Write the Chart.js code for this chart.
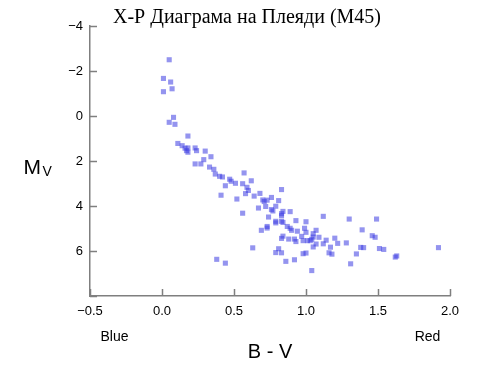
<!DOCTYPE html>
<html><head><meta charset="utf-8">
<script src="https://cdn.jsdelivr.net/npm/chart.js@4"></script>
<style>html,body{margin:0;padding:0;background:#fff}#wrap{width:500px;height:375px}</style>
</head><body><div id="wrap"><canvas id="c" width="500" height="375"></canvas></div>
<script>
// B-V colour index of each star
const bvValues = [0.05,0.01,0.06,0.07,0.01,0.08,0.05,0.09,0.18,0.11,0.14,0.16,0.18,0.17,0.18,0.23,0.24,0.30,0.34,0.29,
0.23,0.27,0.33,0.36,0.37,0.40,0.42,0.47,0.48,0.51,0.44,0.57,0.56,0.62,0.59,0.60,0.58,0.64,0.52,0.41,
0.68,0.70,0.71,0.73,0.76,0.83,0.81,0.67,0.72,0.76,0.77,0.79,0.84,0.89,0.56,0.74,0.79,0.79,0.83,0.83,
0.83,0.84,0.93,1.00,1.12,1.30,1.49,0.73,0.69,0.73,0.87,0.89,0.90,0.94,0.99,1.00,1.07,1.05,1.39,0.84,
0.83,0.88,0.92,0.93,0.97,0.98,1.01,1.03,1.05,1.04,1.09,1.07,1.05,1.12,1.14,1.20,1.22,1.28,1.17,1.16,
1.18,1.38,1.40,1.35,1.46,1.48,1.51,1.54,1.62,1.63,1.92,0.63,0.81,0.79,0.83,0.98,1.00,0.86,0.92,1.04,
1.31,0.38,0.44];
// absolute visual magnitude of each star
const mvValues = [-2.50,-1.67,-1.51,-1.21,-1.08,0.06,0.28,0.37,0.89,1.22,1.32,1.43,1.42,1.54,1.61,1.42,1.54,1.56,1.81,1.94,
2.13,2.13,2.27,2.37,2.58,2.68,2.71,2.81,2.90,2.99,3.10,2.53,3.01,2.88,3.17,3.31,3.45,3.56,3.69,3.52,
3.44,3.73,3.80,3.74,3.62,3.27,3.76,4.09,4.02,4.16,4.22,4.01,4.24,4.25,4.32,4.49,4.68,4.75,4.34,4.43,
4.68,4.73,4.65,4.70,4.46,4.58,4.58,4.91,5.08,4.98,4.91,4.99,5.08,5.12,4.99,5.17,5.08,5.23,5.06,5.34,
5.44,5.47,5.47,5.58,5.35,5.54,5.54,5.54,5.38,5.48,5.39,5.69,5.82,5.68,5.52,5.43,5.66,5.64,5.83,6.08,
6.14,5.84,5.85,6.13,5.32,5.39,5.89,5.93,6.27,6.22,5.85,5.86,5.90,6.07,6.08,6.12,6.09,6.46,6.39,6.87,
6.57,6.37,6.54];
const xTickValues = [-0.5, 0, 0.5, 1, 1.5, 2];
const xTickLabels = ['\u22120.5','0.0','0.5','1.0','1.5','2.0'];
const yTickValues = [-4, -2, 0, 2, 4, 6, 8];
const yTickLabels = ['\u22124','\u22122','0','2','4','6',''];
const titleText = 'X-P Диаграма на Плеяди (M45)';

const points = bvValues.map((x, i) => ({x: x, y: mvValues[i]}));
const AXIS = '#7f7f7f';
const SANS = '"Liberation Sans", Arial, sans-serif';

const decor = {
  id: 'decor',
  afterDraw(chart) {
    const ctx = chart.ctx;
    const xs = chart.scales.x, ys = chart.scales.y;
    const area = chart.chartArea;
    ctx.save();
    ctx.strokeStyle = AXIS;
    ctx.lineWidth = 1.5;
    ctx.beginPath();
    xTickValues.forEach(v => {
      const px = Math.round(xs.getPixelForValue(v)) + 0.5;
      ctx.moveTo(px, area.bottom);
      ctx.lineTo(px, area.bottom - 7);
    });
    yTickValues.forEach(v => {
      const py = Math.round(ys.getPixelForValue(v)) + 0.5;
      ctx.moveTo(area.left, py);
      ctx.lineTo(area.left + 7, py);
    });
    ctx.stroke();
    ctx.fillStyle = '#000';
    ctx.textBaseline = 'alphabetic';
    ctx.textAlign = 'center';
    ctx.font = '20px "Liberation Serif", "Times New Roman", serif';
    ctx.fillText(titleText, 247, 23);
    ctx.font = '20px ' + SANS;
    ctx.fillText('B - V', 270, 358);
    ctx.font = '14px ' + SANS;
    ctx.fillText('Blue', 114.5, 341);
    ctx.fillText('Red', 427.5, 341);
    ctx.textAlign = 'left';
    ctx.font = '21px ' + SANS;
    ctx.fillText('M', 23.5, 173.5);
    ctx.font = '14px ' + SANS;
    ctx.fillText('V', 42.5, 176);
    ctx.restore();
  }
};

new Chart(document.getElementById('c'), {
  type: 'scatter',
  data: { datasets: [{
    data: points,
    pointStyle: 'rect',
    pointRadius: 3.6,
    pointBorderWidth: 0,
    backgroundColor: 'rgba(60,60,225,0.55)',
    borderColor: 'rgba(60,60,225,0)'
  }]},
  options: {
    responsive: false,
    animation: false,
    layout: { padding: { left: 0, right: 50, top: 26, bottom: 0 } },
    plugins: { legend: { display: false }, title: { display: false }, tooltip: { enabled: false } },
    scales: {
      x: {
        type: 'linear', min: -0.5, max: 2,
        afterFit: s => { s.height = 79; },
        afterBuildTicks: s => { s.ticks = xTickValues.map(v => ({value: v})); },
        grid: { display: false, drawTicks: false },
        border: { color: AXIS, width: 1.5 },
        ticks: { padding: 8, color: '#000', font: { family: SANS, size: 13 },
          maxRotation: 0, autoSkip: false,
          callback: v => { const i = xTickValues.indexOf(v); return i >= 0 ? xTickLabels[i] : ''; } }
      },
      y: {
        type: 'linear', min: -4, max: 8, reverse: true,
        afterFit: s => { s.width = 90; },
        afterBuildTicks: s => { s.ticks = yTickValues.map(v => ({value: v})); },
        grid: { display: false, drawTicks: false },
        border: { color: AXIS, width: 1.5 },
        ticks: { padding: 7, color: '#000', font: { family: SANS, size: 13 }, autoSkip: false,
          callback: v => { const i = yTickValues.indexOf(v); return i >= 0 ? yTickLabels[i] : ''; } }
      }
    }
  },
  plugins: [decor]
});
</script></body></html>
